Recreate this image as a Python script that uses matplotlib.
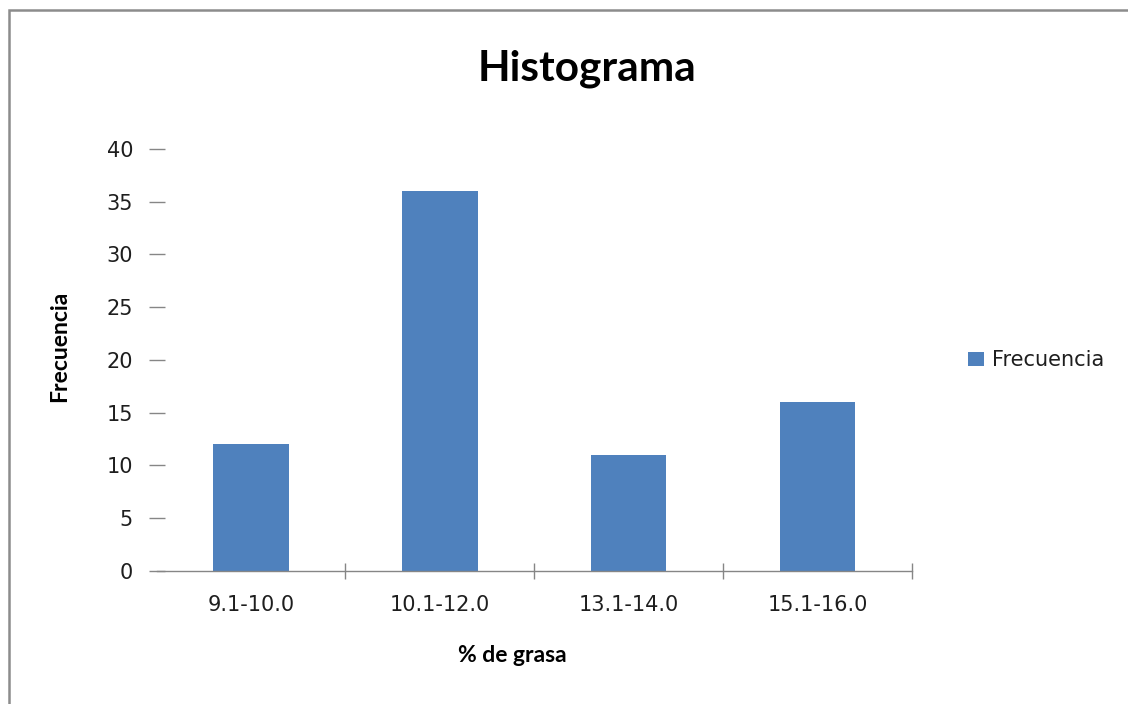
import matplotlib
matplotlib.use("Agg")
import matplotlib.pyplot as plt
from matplotlib.patches import Rectangle

# Data
categories = ["9.1-10.0", "10.1-12.0", "13.1-14.0", "15.1-16.0"]
frecuencia = [12, 36, 11, 16]
yticks = [0, 5, 10, 15, 20, 25, 30, 35, 40]

bar_color = "#4F81BD"
axis_color = "#868686"
text_color = "#1e1e1e"

fig = plt.figure(figsize=(11.28, 7.04), dpi=100)
ax = fig.add_axes([156.5 / 1128, (704 - 571) / 704, (912 - 156.5) / 1128, (571 - 149) / 704])

x = list(range(len(categories)))
ax.bar(x, frecuencia, width=0.4, color=bar_color, label="Frecuencia", zorder=2)

ax.set_xlim(-0.5, len(categories) - 0.5)
ax.set_ylim(0, 40)

# y axis: crossing tick marks, no axis line
ax.set_yticks(yticks)
ax.set_yticklabels([str(v) for v in yticks])
ax.tick_params(axis="y", direction="inout", length=12.2, width=1, color=axis_color,
               pad=10.8, labelsize=15, labelcolor=text_color)

# x axis: labels at centres, tick marks between categories and at the right end
ax.set_xticks(x)
ax.set_xticklabels(categories)
ax.set_xticks([i + 0.5 for i in range(len(categories))], minor=True)
ax.tick_params(axis="x", which="major", length=0, pad=17.5, labelsize=15, labelcolor=text_color)
ax.tick_params(axis="x", which="minor", direction="inout", length=11.5, width=1, color=axis_color)

for side in ["top", "right", "left"]:
    ax.spines[side].set_visible(False)
ax.spines["bottom"].set_color(axis_color)
ax.spines["bottom"].set_linewidth(1)

# titles and labels
fig.text(587 / 1128, (704 - 80) / 704, "Histograma", ha="center", va="baseline",
         fontsize=30.5, fontweight="bold", family="Lato", color="black")
fig.text(60 / 1128, (704 - 346) / 704, "Frecuencia", rotation=90, ha="center", va="center",
         fontsize=16.5, fontweight="bold", family="Lato", color="black")
fig.text(512 / 1128, (704 - 655) / 704, "% de grasa", ha="center", va="center",
         fontsize=16.5, fontweight="bold", family="Lato", color="black")

ax.legend(loc="center left", bbox_to_anchor=(968 / 1128, (704 - 360) / 704),
          bbox_transform=fig.transFigure, frameon=False, borderpad=0, borderaxespad=0,
          handlelength=0.75, handleheight=0.65, handletextpad=0.4,
          prop={"size": 15}, labelcolor=text_color)

# chart area border (only top and left edges fall inside the picture)
fig.add_artist(Rectangle((9 / 1128, -0.5), 2.0, (704 - 10) / 704 + 0.5,
                         transform=fig.transFigure, fill=False,
                         edgecolor="#8c8c8c", linewidth=1.8))

fig.savefig("out.png", dpi=100)
